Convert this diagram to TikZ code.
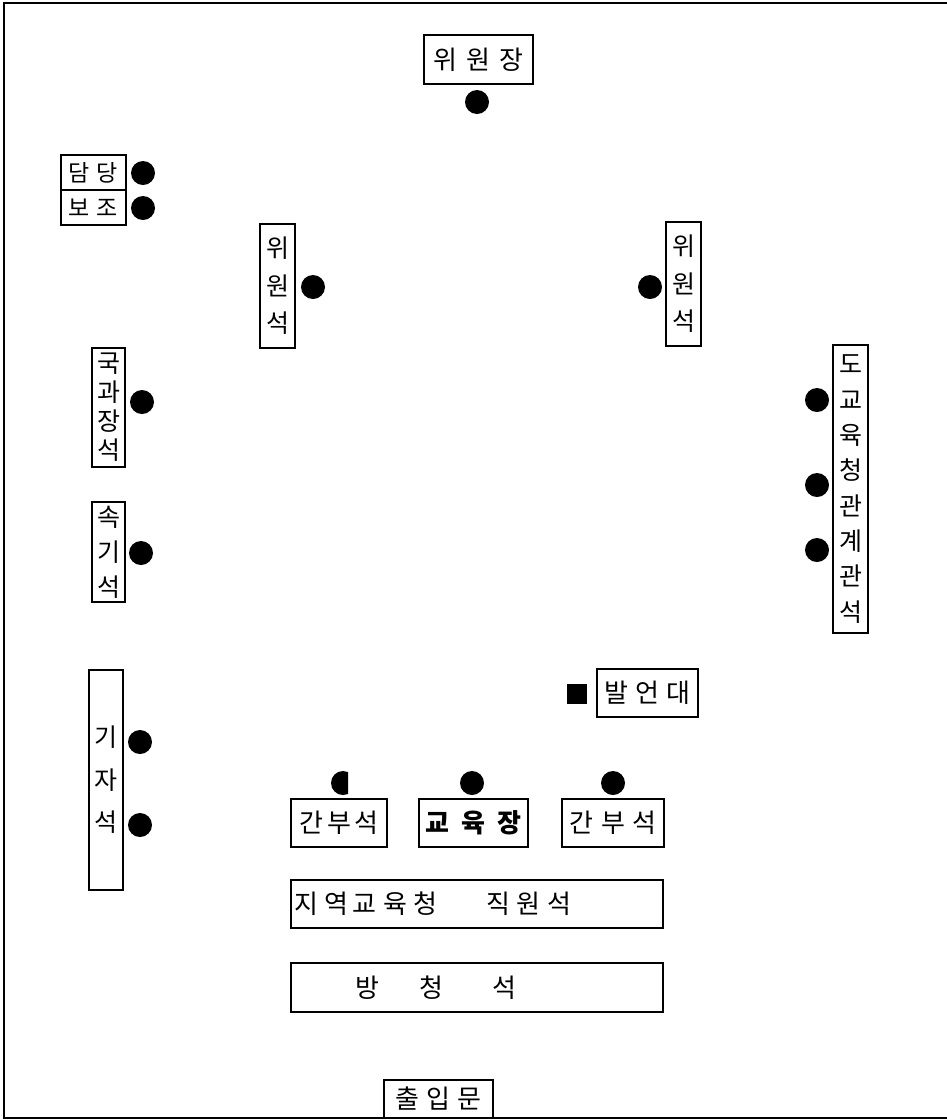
\documentclass[tikz,border=0pt]{standalone}
\usepackage{fontspec}
\newfontfamily\kr{Noto Sans CJK KR}
\begin{document}
\begin{tikzpicture}[x=1pt,y=-1pt,
  lbl/.style={draw, line width=1.2pt, inner sep=0pt, align=center, font=\kr\fontsize{26}{30}\selectfont},
  vlbl/.style={lbl, font=\kr\fontsize{25}{#1}\selectfont},
  seat/.style={circle, fill=black, inner sep=0pt, minimum size=24pt},
  podium/.style={rectangle, fill=black, inner sep=0pt, minimum size=20pt},
  frame/.style={line width=1.5pt}
]
\useasboundingbox (0,0) rectangle (946,1120);
% frame
\coordinate (ftr) at (950,3);
\coordinate (ftl) at (4,3);
\coordinate (fbl) at (4,1118);
\coordinate (fbr) at (950,1118);
\draw[frame] (ftr) -- (ftl) -- (fbl) -- (fbr);

% chairman
\node[lbl, minimum width=109pt, minimum height=49pt] (chair) at (478.5,59.5) {위\hspace{9pt}원\hspace{9pt}장};
\node[seat] (chairs) at (477,102) {};

% 담당 / 보조
\node[lbl, minimum width=65pt, minimum height=35pt, font=\kr\fontsize{23}{26}\selectfont] (dam) at (93.5,172.5) {담\hspace{7pt}당};
\node[lbl, minimum width=65pt, minimum height=35pt, font=\kr\fontsize{23}{26}\selectfont] (bo) at (93.5,207.5) {보\hspace{7pt}조};
\node[seat] (dams) at (143,173) {};
\node[seat] (bos) at (143,208) {};

% committee members
\node[vlbl=37.5, minimum width=35pt, minimum height=124pt] (wl) at (277.5,286) {위\\원\\석};
\node[seat] (wls) at (313,287) {};
\node[vlbl=37.5, minimum width=35pt, minimum height=124pt] (wr) at (683.5,284) {위\\원\\석};
\node[seat] (wrs) at (650,287) {};

% left side
\node[vlbl=29, minimum width=33pt, minimum height=119pt] (gwa) at (108.5,407.5) {국\\과\\장\\석};
\node[seat] (gwas) at (142,402) {};
\node[vlbl=35, minimum width=33pt, minimum height=100pt] (sok) at (108.5,552) {속\\기\\석};
\node[seat] (soks) at (141,553) {};
\node[vlbl=42.5, minimum width=34pt, minimum height=220pt] (gija) at (106,780) {기\\자\\석};
\node[seat] (gijas1) at (140,742) {};
\node[seat] (gijas2) at (140,825) {};

% right side
\node[vlbl=35.3, minimum width=35pt, minimum height=288pt] (do) at (850.5,489) {도\\교\\육\\청\\관\\계\\관\\석};
\node[seat] (dos1) at (817,400) {};
\node[seat] (dos2) at (817,485) {};
\node[seat] (dos3) at (817,550) {};

% podium
\node[lbl, minimum width=101pt, minimum height=48pt] (bal) at (647.5,693) {발\hspace{7pt}언\hspace{7pt}대};
\node[podium] (bals) at (577,694) {};

% front row
\node[lbl, minimum width=96pt, minimum height=48pt] (ganl) at (339,823) {간\hspace{4pt}부\hspace{4pt}석};
\begin{scope}
  \clip (329,769) rectangle (348,797);
  \fill (343,783) circle (12);
\end{scope}
\node[lbl, minimum width=109pt, minimum height=48pt, font=\kr\bfseries\fontsize{26}{30}\selectfont] (edu) at (473.5,823) {교\hspace{12pt}육\hspace{12pt}장};
\node[seat] (edus) at (472,783) {};
\node[lbl, minimum width=102pt, minimum height=48pt] (ganr) at (613,823) {간\hspace{8pt}부\hspace{8pt}석};
\node[seat] (ganrs) at (613,783) {};

% rows
\node[lbl, minimum width=372pt, minimum height=48pt, text width=366pt, inner xsep=3pt, align=left] (staff) at (477,904) {지\hspace{7pt}역\hspace{4pt}교\hspace{7pt}육\hspace{6pt}청\hspace{49pt}직\hspace{6pt}원\hspace{7pt}석};
\node[lbl, minimum width=372pt, minimum height=49pt, text width=244pt, inner xsep=64pt, align=left] (aud) at (477,987.5) {방\hspace{41pt}청\hspace{49pt}석};

% door
\node[lbl, minimum width=109pt, minimum height=38pt] (door) at (438.5,1099) {출\hspace{7.5pt}입\hspace{7.5pt}문};
\end{tikzpicture}
\end{document}
